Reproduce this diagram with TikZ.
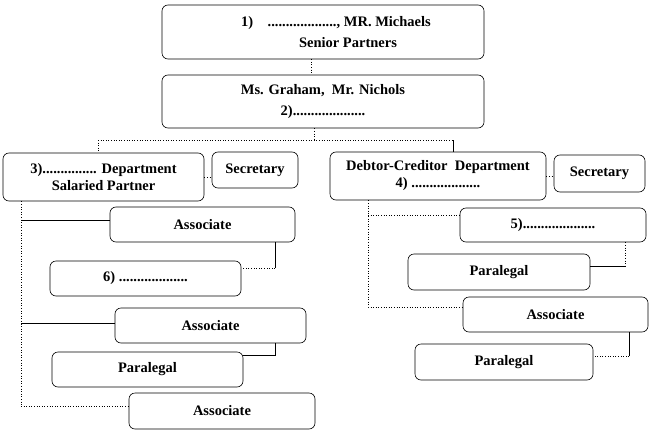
\documentclass[tikz,border=0pt]{standalone}
\usepackage{fontspec}
\setmainfont{Liberation Serif}
\usepackage{tikz}

\begin{document}
\begin{tikzpicture}[x=1pt,y=-1pt,line width=0.6pt]
\tikzstyle{every node}+=[font=\fontsize{14.5}{17}\selectfont\bfseries]
\tikzstyle{box}=[draw, rounded corners=6pt, align=center, inner sep=0pt]
\useasboundingbox (0,0) rectangle (652,433);
\node[box, minimum width=322, minimum height=54] (top) at (323,32) {\hspace*{26pt}1)\quad ..................., MR. Michaels\\[4pt]\hspace*{50pt}Senior Partners};
\node[box, minimum width=322, minimum height=53] (mid) at (323,101.5) {Ms. Graham,\ \ Mr. Nichols\\[4pt]2)....................};
\node[box, minimum width=201, minimum height=48] (dep3) at (103.5,177) {3)............... Department\\Salaried Partner};
\node[box, minimum width=86, minimum height=36] (secL) at (255,170) {Secretary};
\node[box, minimum width=185, minimum height=35] (assocA) at (202.5,224.5) {Associate};
\node[box, minimum width=191, minimum height=35] (six) at (145.5,278.5) {6) ...................};
\node[box, minimum width=191, minimum height=35] (assocB) at (210.5,325.5) {Associate};
\node[box, minimum width=191, minimum height=35] (paraL) at (147.5,369.5) {Paralegal};
\node[box, minimum width=186, minimum height=36] (assocC) at (222,411) {Associate};
\node[box, minimum width=216, minimum height=48] (debt) at (438,176) {Debtor-Creditor\ \ Department\\4) ...................};
\node[box, minimum width=91, minimum height=37] (secR) at (599.5,173.5) {Secretary};
\node[box, minimum width=186, minimum height=34] (five) at (553,225) {5)....................};
\node[box, minimum width=182, minimum height=36] (paraR1) at (499,272) {Paralegal};
\node[box, minimum width=185, minimum height=35] (assocR) at (555.5,314.5) {Associate};
\node[box, minimum width=178, minimum height=36] (paraR2) at (504,362) {Paralegal};
\coordinate (busL) at (98,140);
\coordinate (busM) at (314,140);
\coordinate (busR) at (453,140);
\coordinate (spineL) at (21,0);
\coordinate (spineR) at (368,0);
\coordinate (kneeA) at (275,268);
\coordinate (kneeB) at (275,355);
\coordinate (kneeC) at (625,266);
\coordinate (kneeD) at (629,356);
\draw [dotted] ([xshift=-12pt]top.south) -- ([xshift=-12pt]mid.north);
\draw [dotted] (mid.south -| busM) -- (busM);
\draw [dotted] (busL) -- (busR);
\draw [dotted] (busL) -- (dep3.north -| busL);
\draw (busR) -- (debt.north -| busR);
\draw [dotted] (dep3.east) -- (secL.west |- dep3.east);
\draw [dotted] (debt.east) -- (secR.west |- debt.east);
\draw [dotted] (dep3.south -| spineL) -- (spineL |- 0,406);
\draw (spineL |- 0,220) -- (assocA.west |- 0,220);
\draw (spineL |- 0,323) -- (assocB.west |- 0,323);
\draw [dotted] (spineL |- 0,406) -- (assocC.west |- 0,406);
\draw (assocA.south -| kneeA) -- (kneeA);
\draw [dotted] (kneeA) -- (six.east |- kneeA);
\draw (assocB.south -| kneeB) -- (kneeB) -- (paraL.east |- kneeB);
\draw [dotted] (debt.south -| spineR) -- (spineR |- 0,307) -- (assocR.west |- 0,307);
\draw [dotted] (spineR |- 0,215) -- (five.west |- 0,215);
\draw [dotted] (five.south -| kneeC) -- (kneeC);
\draw (kneeC) -- (paraR1.east |- kneeC);
\draw (assocR.south -| kneeD) -- (kneeD);
\draw [dotted] (kneeD) -- (paraR2.east |- kneeD);
\end{tikzpicture}
\end{document}
